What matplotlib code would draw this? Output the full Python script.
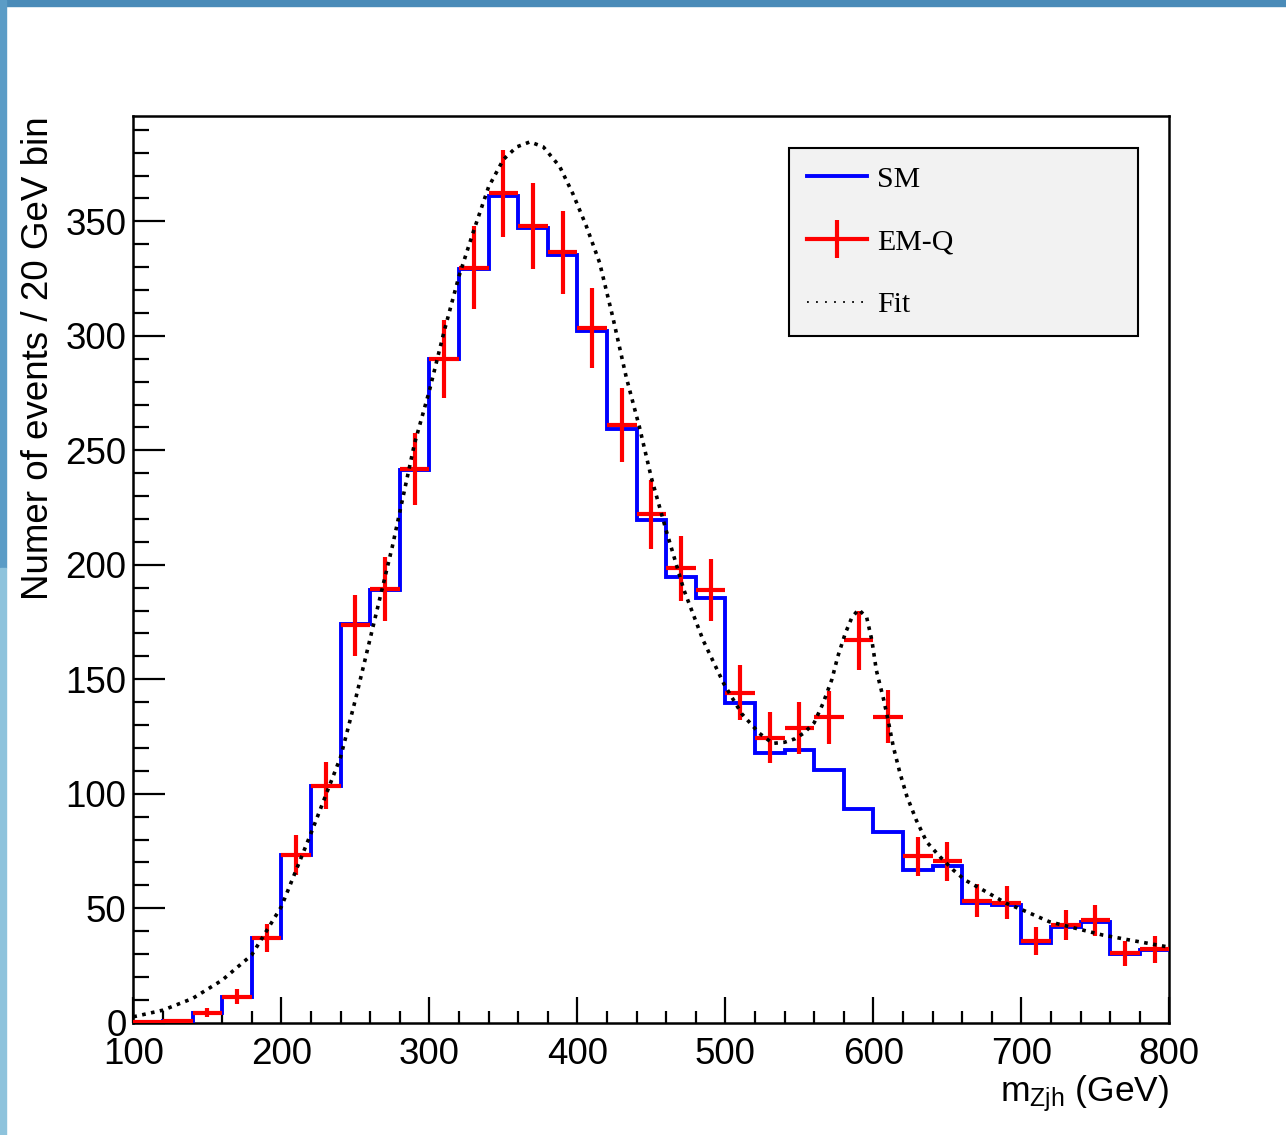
import numpy as np
import matplotlib
matplotlib.use("Agg")
import matplotlib.pyplot as plt
from matplotlib.lines import Line2D
from matplotlib.patches import Rectangle
from matplotlib.legend_handler import HandlerTuple
from matplotlib.ticker import MultipleLocator

plt.rcParams['font.family'] = ['Liberation Sans', 'DejaVu Sans']
plt.rcParams['mathtext.fontset'] = 'custom'
plt.rcParams['mathtext.rm'] = 'Liberation Sans'
plt.rcParams['mathtext.it'] = 'Liberation Sans'

# binning: 20 GeV bins from 100 to 800 GeV
bin_lo, bin_hi, bin_w = 100, 800, 20

# SM histogram content per bin
sm = [0.3, 0.7, 4.4, 11.4, 37.1, 73.2, 103.5, 174.1, 189.0, 241.4,
      289.7, 329.0, 361.1, 347.2, 335.5, 302.0, 259.2, 219.5, 194.8, 185.3,
      139.5, 117.6, 119.1, 110.5, 93.3, 83.3, 66.5, 68.6, 52.2, 51.5,
      34.8, 42.0, 44.2, 30.0, 31.8]

# EM-Q points and their errors
emq = [0.3, 0.7, 4.4, 11.4, 37.1, 73.2, 103.5, 173.5, 189.4, 241.8,
       289.7, 329.7, 362.2, 348.0, 336.4, 303.5, 261.0, 222.0, 198.4, 189.0,
       144.1, 124.5, 128.8, 133.4, 167.1, 133.6, 72.7, 70.5, 53.3, 52.4,
       35.8, 42.7, 44.8, 30.3, 32.0]
emq_err = [0.5, 0.8, 2.1, 3.4, 6.1, 8.6, 10.2, 13.2, 13.8, 15.6,
           17.0, 18.2, 19.0, 18.7, 18.3, 17.4, 16.2, 14.9, 14.1, 13.7,
           12.0, 11.2, 11.3, 11.5, 12.9, 11.6, 8.5, 8.4, 7.3, 7.2,
           6.0, 6.5, 6.7, 5.5, 5.7]

# fit curve
fit_x = [100, 120, 140, 160, 180, 200, 220, 240, 250, 275, 290, 300, 310, 320, 330,
         340, 350, 359, 368, 377, 388, 397, 406, 415, 424, 433, 442, 450, 460, 472,
         485, 499, 511, 523, 532, 540, 547, 553, 560, 566, 572, 576, 581, 585.5, 590,
         595.5, 599, 602, 607, 610, 613.5, 618, 622.6, 629, 636, 645, 654, 662, 674, 690,
         701, 719, 737, 755, 776, 800]
fit_y = [2.6, 5.5, 10.6, 18.6, 29.6, 50.7, 82.7, 116, 141, 208, 253, 276, 302, 326, 346,
         365, 377, 382.5, 384.7, 382.5, 374, 362, 348, 332, 308, 282, 260, 238, 215, 189,
         167, 148, 135, 126.4, 122, 122.5, 124, 126.5, 131, 139.5, 150, 160, 170, 177, 180.5,
         177, 167, 154, 141, 132, 120.5, 109, 99, 88.5, 79, 72.5, 66.7, 62.3, 58, 52.1,
         49.2, 44.1, 41.2, 38.3, 35.8, 33.0]

edges = np.arange(bin_lo, bin_hi + bin_w, bin_w)
centers = edges[:-1] + bin_w / 2

fig = plt.figure(figsize=(12.86, 11.35), dpi=100)
ax = fig.add_axes([0.1037, 0.0989, 0.8056, 0.7989])

ax.stairs(sm, edges, color='#0000ff', lw=2.8, baseline=None, zorder=3)
ax.errorbar(centers, emq, xerr=bin_w / 2, yerr=emq_err, fmt='none',
            ecolor='#ff0000', elinewidth=3.0, capsize=0, zorder=4)
ax.plot(fit_x, fit_y, color='black', lw=2.6, ls=(0, (1, 1.5)), zorder=5)

ax.set_xlim(bin_lo, bin_hi)
ax.set_ylim(0, 396)
ax.xaxis.set_major_locator(MultipleLocator(100))
ax.xaxis.set_minor_locator(MultipleLocator(20))
ax.yaxis.set_major_locator(MultipleLocator(50))
ax.yaxis.set_minor_locator(MultipleLocator(10))
ax.tick_params(axis='both', which='both', direction='in', top=False, right=False,
               width=1.6, labelsize=26.5)
ax.tick_params(axis='x', which='major', length=19, pad=10)
ax.tick_params(axis='x', which='minor', length=9)
ax.tick_params(axis='y', which='major', length=23, pad=5)
ax.tick_params(axis='y', which='minor', length=11.5)
for s in ax.spines.values():
    s.set_linewidth(1.8)

ax.set_ylabel('Numer of events / 20 GeV bin', fontsize=26.5, loc='top', labelpad=7)
ax.set_xlabel(r'$\mathregular{m_{Zjh}}$ (GeV)', fontsize=25.5, loc='right', labelpad=1)

# legend entries (the EM-Q one is a horizontal bar with a vertical bar on top)
h_sm = Line2D([], [], color='#0000ff', lw=2.8)
h_emq = (Line2D([], [], color='#ff0000', lw=3.0),
         Line2D([], [], color='#ff0000', marker='|', markersize=28, mew=3.0, ls='none'))
h_fit = Line2D([], [], color='black', lw=1.3, ls=(0, (1, 4)))
leg = ax.legend([h_sm, h_emq, h_fit], ['SM', 'EM-Q', 'Fit'],
                handler_map={tuple: HandlerTuple(ndivide=1)},
                loc='upper left', bbox_to_anchor=(0.633, 0.765, 0.337, 0.2), mode='expand',
                borderaxespad=0, fancybox=False, framealpha=1, facecolor='#f2f2f2',
                edgecolor='black', prop={'family': 'Liberation Serif', 'size': 21.5},
                handlelength=2.0, handletextpad=0.35, labelspacing=1.2, borderpad=0.6)
leg.get_frame().set_linewidth(1.5)

# screenshot border
fig.patches.append(Rectangle((0, 1 - 6 / 1135), 1, 6 / 1135, transform=fig.transFigure,
                             color='#4a8bb8', zorder=0))
fig.patches.append(Rectangle((0, 0.5), 6 / 1286, 0.5, transform=fig.transFigure,
                             color='#5b9cc6', zorder=0))
fig.patches.append(Rectangle((0, 0), 6 / 1286, 0.5, transform=fig.transFigure,
                             color='#8ec3dc', zorder=0))

fig.savefig('out.png', dpi=100)
